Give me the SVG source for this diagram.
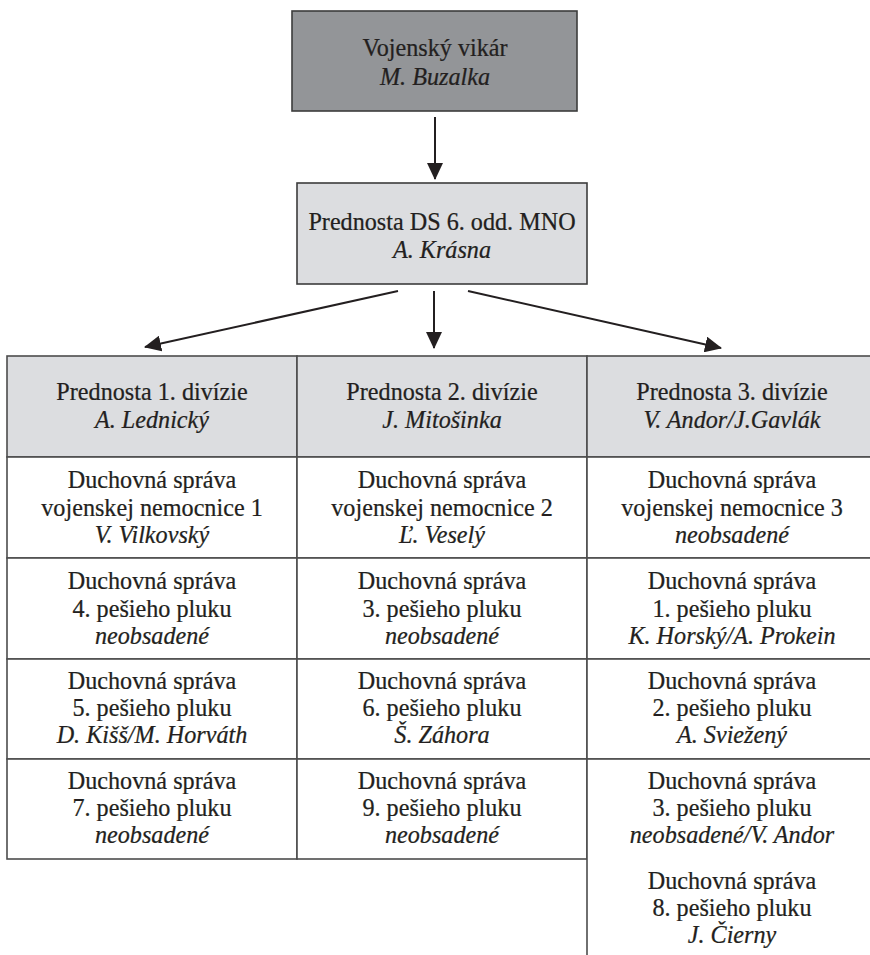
<svg xmlns="http://www.w3.org/2000/svg" width="870" height="955" viewBox="0 0 870 955">
<defs>
<marker id="ah" markerUnits="userSpaceOnUse" markerWidth="17" markerHeight="16" viewBox="0 0 17 16" refX="16" refY="8" orient="auto">
<path d="M0,0 L17,8 L0,16 Z" fill="#231f20"/>
</marker>
<style>
text{font-family:"Liberation Serif","Times New Roman",serif;font-size:26px;fill:#231f20;stroke:#231f20;stroke-width:0.25;text-anchor:middle}
.i{font-style:italic}
.box{stroke:#3c3c3c;stroke-width:1.6}
.top{fill:#939598}
.lt{fill:#dcdde0}
.cell{fill:#ffffff;stroke:#4d4d4d;stroke-width:1.6}
.hdr{fill:#dcdde0;stroke:#4d4d4d;stroke-width:1.6}
.conn{stroke:#231f20;stroke-width:2;fill:none;marker-end:url(#ah)}
</style>
</defs>
<rect width="870" height="955" fill="#ffffff"/>

<g id="vikar">
<rect class="box top" x="292" y="11" width="285" height="100"/>
<g transform="translate(435 0) scale(0.93 1)">
<text x="0" y="56">Vojenský vikár</text>
<text class="i" x="0" y="85">M. Buzalka</text>
</g>
</g>

<g id="prednosta-ds">
<rect class="box lt" x="297" y="183" width="290" height="101"/>
<g transform="translate(442 0) scale(0.93 1)">
<text x="0" y="230">Prednosta DS 6. odd. MNO</text>
<text class="i" x="0" y="258">A. Krásna</text>
</g>
</g>

<g id="connectors">
<line class="conn" x1="435" y1="117" x2="435" y2="179"/>
<line class="conn" x1="398" y1="291" x2="145" y2="347"/>
<line class="conn" x1="434" y1="291" x2="434" y2="348"/>
<line class="conn" x1="468" y1="291" x2="721" y2="348"/>
</g>

<g id="div1">
<rect class="hdr" x="7" y="356" width="290" height="101"/>
<g transform="translate(152 0) scale(0.93 1)">
<text x="0" y="400">Prednosta 1. divízie</text>
<text class="i" x="0" y="428">A. Lednický</text>
</g>
</g>
<g id="div2">
<rect class="hdr" x="297" y="356" width="290" height="101"/>
<g transform="translate(442 0) scale(0.93 1)">
<text x="0" y="400">Prednosta 2. divízie</text>
<text class="i" x="0" y="428">J. Mitošinka</text>
</g>
</g>
<g id="div3">
<rect class="hdr" x="587" y="356" width="290" height="101"/>
<g transform="translate(732 0) scale(0.93 1)">
<text x="0" y="400">Prednosta 3. divízie</text>
<text class="i" x="0" y="428">V. Andor/J.Gavlák</text>
</g>
</g>

<g id="c1r1">
<rect class="cell" x="7" y="457" width="290" height="101"/>
<g transform="translate(152 0) scale(0.93 1)">
<text x="0" y="488">Duchovná správa</text>
<text x="0" y="516">vojenskej nemocnice 1</text>
<text class="i" x="0" y="543">V. Vilkovský</text>
</g>
</g>
<g id="c2r1">
<rect class="cell" x="297" y="457" width="290" height="101"/>
<g transform="translate(442 0) scale(0.93 1)">
<text x="0" y="488">Duchovná správa</text>
<text x="0" y="516">vojenskej nemocnice 2</text>
<text class="i" x="0" y="543">Ľ. Veselý</text>
</g>
</g>
<g id="c3r1">
<rect class="cell" x="587" y="457" width="290" height="101"/>
<g transform="translate(732 0) scale(0.93 1)">
<text x="0" y="488">Duchovná správa</text>
<text x="0" y="516">vojenskej nemocnice 3</text>
<text class="i" x="0" y="543">neobsadené</text>
</g>
</g>

<g id="c1r2">
<rect class="cell" x="7" y="558" width="290" height="101"/>
<g transform="translate(152 0) scale(0.93 1)">
<text x="0" y="589">Duchovná správa</text>
<text x="0" y="617">4. pešieho pluku</text>
<text class="i" x="0" y="644">neobsadené</text>
</g>
</g>
<g id="c2r2">
<rect class="cell" x="297" y="558" width="290" height="101"/>
<g transform="translate(442 0) scale(0.93 1)">
<text x="0" y="589">Duchovná správa</text>
<text x="0" y="617">3. pešieho pluku</text>
<text class="i" x="0" y="644">neobsadené</text>
</g>
</g>
<g id="c3r2">
<rect class="cell" x="587" y="558" width="290" height="101"/>
<g transform="translate(732 0) scale(0.93 1)">
<text x="0" y="589">Duchovná správa</text>
<text x="0" y="617">1. pešieho pluku</text>
<text class="i" x="0" y="644">K. Horský/A. Prokein</text>
</g>
</g>

<g id="c1r3">
<rect class="cell" x="7" y="659" width="290" height="100"/>
<g transform="translate(152 0) scale(0.93 1)">
<text x="0" y="689">Duchovná správa</text>
<text x="0" y="716">5. pešieho pluku</text>
<text class="i" x="0" y="743">D. Kišš/M. Horváth</text>
</g>
</g>
<g id="c2r3">
<rect class="cell" x="297" y="659" width="290" height="100"/>
<g transform="translate(442 0) scale(0.93 1)">
<text x="0" y="689">Duchovná správa</text>
<text x="0" y="716">6. pešieho pluku</text>
<text class="i" x="0" y="743">Š. Záhora</text>
</g>
</g>
<g id="c3r3">
<rect class="cell" x="587" y="659" width="290" height="100"/>
<g transform="translate(732 0) scale(0.93 1)">
<text x="0" y="689">Duchovná správa</text>
<text x="0" y="716">2. pešieho pluku</text>
<text class="i" x="0" y="743">A. Sviežený</text>
</g>
</g>

<g id="c1r4">
<rect class="cell" x="7" y="759" width="290" height="100"/>
<g transform="translate(152 0) scale(0.93 1)">
<text x="0" y="789">Duchovná správa</text>
<text x="0" y="816">7. pešieho pluku</text>
<text class="i" x="0" y="843">neobsadené</text>
</g>
</g>
<g id="c2r4">
<rect class="cell" x="297" y="759" width="290" height="100"/>
<g transform="translate(442 0) scale(0.93 1)">
<text x="0" y="789">Duchovná správa</text>
<text x="0" y="816">9. pešieho pluku</text>
<text class="i" x="0" y="843">neobsadené</text>
</g>
</g>
<g id="c3r4">
<rect class="cell" x="587" y="759" width="290" height="220"/>
<g transform="translate(732 0) scale(0.93 1)">
<text x="0" y="789">Duchovná správa</text>
<text x="0" y="816">3. pešieho pluku</text>
<text class="i" x="0" y="843">neobsadené/V. Andor</text>
<text x="0" y="889">Duchovná správa</text>
<text x="0" y="916">8. pešieho pluku</text>
<text class="i" x="0" y="943">J. Čierny</text>
</g>
</g>
</svg>
